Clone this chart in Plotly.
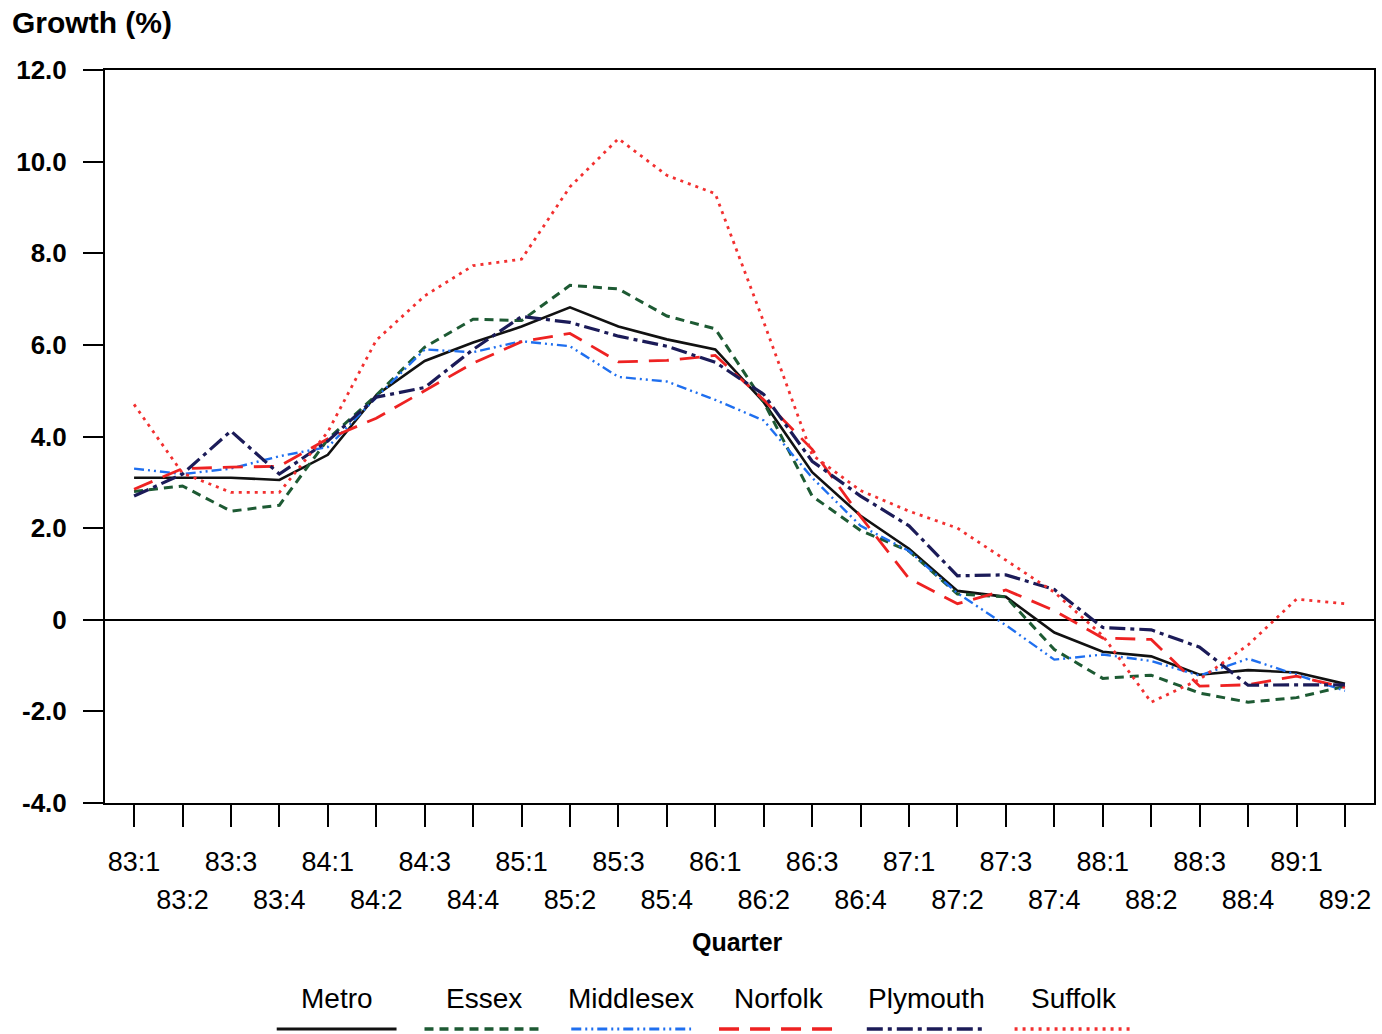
import plotly.graph_objects as go

# Quarterly growth rates (%) by region, 1983 Q1 to 1989 Q2
quarters = ["83:1", "83:2", "83:3", "83:4", "84:1", "84:2", "84:3", "84:4",
            "85:1", "85:2", "85:3", "85:4", "86:1", "86:2", "86:3", "86:4",
            "87:1", "87:2", "87:3", "87:4", "88:1", "88:2", "88:3", "88:4",
            "89:1", "89:2"]

metro = [3.1, 3.1, 3.1, 3.05, 3.6, 4.9, 5.65, 6.05, 6.4, 6.82, 6.4, 6.12, 5.9,
         4.75, 3.22, 2.27, 1.55, 0.63, 0.5, -0.28, -0.7, -0.8, -1.2, -1.1, -1.15, -1.4]
essex = [2.8, 2.92, 2.37, 2.5, 3.94, 4.9, 5.95, 6.56, 6.53, 7.3, 7.22, 6.63, 6.35,
         4.75, 2.7, 1.95, 1.5, 0.56, 0.5, -0.65, -1.28, -1.21, -1.6, -1.8, -1.7, -1.45]
middlesex = [3.3, 3.18, 3.3, 3.57, 3.77, 4.85, 5.9, 5.84, 6.08, 5.97, 5.3, 5.2, 4.8,
             4.35, 3.1, 2.05, 1.5, 0.58, -0.12, -0.87, -0.76, -0.9, -1.22, -0.85, -1.2, -1.55]
norfolk = [2.85, 3.3, 3.33, 3.35, 3.95, 4.4, 5.0, 5.6, 6.07, 6.25, 5.63, 5.66, 5.77,
           4.8, 3.72, 2.25, 0.9, 0.35, 0.65, 0.2, -0.4, -0.43, -1.45, -1.42, -1.23, -1.48]
plymouth = [2.7, 3.18, 4.12, 3.18, 3.9, 4.86, 5.07, 5.9, 6.62, 6.49, 6.19, 5.97, 5.62,
            4.92, 3.46, 2.7, 2.05, 0.96, 0.98, 0.66, -0.17, -0.22, -0.6, -1.43, -1.42, -1.42]
suffolk = [4.7, 3.2, 2.78, 2.78, 4.1, 6.1, 7.07, 7.73, 7.87, 9.45, 10.5, 9.7, 9.3,
           6.5, 3.6, 2.82, 2.37, 2.0, 1.3, 0.6, -0.35, -1.8, -1.3, -0.55, 0.45, 0.35]

y_ticks = [12, 10, 8, 6, 4, 2, 0, -2, -4]
y_tick_labels = ["12.0", "10.0", "8.0", "6.0", "4.0", "2.0", "0", "-2.0", "-4.0"]

FONT = "Liberation Sans, Arial, sans-serif"

series = [
    ("Metro", metro, "#111111", "solid", 2.6),
    ("Essex", essex, "#1d5a33", "9px,6px", 3),
    ("Middlesex", middlesex, "#1f6fef", "10px,4px,2px,4px,2px,4px", 2.4),
    ("Norfolk", norfolk, "#ee2222", "20px,11px", 2.8),
    ("Plymouth", plymouth, "#1b1b58", "16px,5px,4px,5px", 3.2),
    ("Suffolk", suffolk, "#f23030", "3px,5px", 2.8),
]

idx = list(range(len(quarters)))

fig = go.Figure()
for name, vals, color, dash, width in series:
    fig.add_trace(go.Scatter(
        x=idx, y=vals, mode="lines", name=name,
        line=dict(color=color, dash=dash, width=width),
        showlegend=False, xaxis="x", yaxis="y",
    ))

# invisible carrier trace for the second (lower-row) quarter label axis
fig.add_trace(go.Scatter(x=idx, y=[None] * len(idx), xaxis="x2", yaxis="y",
                         showlegend=False, hoverinfo="skip"))

upper = [q if i % 2 == 0 else "" for i, q in enumerate(quarters)]
lower_vals = [i for i in idx if i % 2 == 1]
lower = [quarters[i] for i in lower_vals]

fig.update_layout(
    width=1382, height=1034,
    margin=dict(l=105, r=6, t=70, b=231),
    paper_bgcolor="white", plot_bgcolor="white",
    font=dict(family=FONT, color="black"),
    xaxis=dict(
        range=[-0.6, 25.6], tickmode="array", tickvals=idx, ticktext=upper,
        ticks="outside", ticklen=22, tickwidth=1.5, tickcolor="black",
        tickfont=dict(size=27, family=FONT), ticklabelstandoff=12,
        showline=True, linecolor="black", linewidth=2, mirror=True,
        showgrid=False, zeroline=False,
    ),
    xaxis2=dict(
        overlaying="x", matches="x", anchor="y", side="bottom",
        tickmode="array", tickvals=lower_vals, ticktext=lower,
        ticks="", tickfont=dict(size=27, family=FONT), ticklabelstandoff=78,
        showline=False, showgrid=False, zeroline=False,
    ),
    yaxis=dict(
        range=[-4, 12], tickmode="array", tickvals=y_ticks, ticktext=y_tick_labels,
        ticks="outside", ticklen=20, tickwidth=1.5, tickcolor="black",
        tickfont=dict(size=26, family=FONT, weight="bold"), ticklabelstandoff=11,
        showline=True, linecolor="black", linewidth=2, mirror=True,
        showgrid=False, zeroline=True, zerolinecolor="black", zerolinewidth=2,
    ),
)

annotations = [
    dict(text="Growth (%)", x=10, y=22, xref="paper", yref="paper",
         xanchor="left", yanchor="middle", showarrow=False,
         font=dict(size=30, weight="bold", family=FONT)),
    dict(text="Quarter", x=738, y=942, xref="paper", yref="paper",
         xanchor="center", yanchor="middle", showarrow=False,
         font=dict(size=25, weight="bold", family=FONT)),
]

# convert pixel placement in the page to paper coordinates
PL, PR, PT, PB = 105, 1376, 70, 803


def px_x(px):
    return (px - PL) / (PR - PL)


def px_y(py):
    return (PB - py) / (PB - PT)


for a in annotations:
    a["x"] = px_x(a["x"])
    a["y"] = px_y(a["y"])

# legend: label above a short line sample
legend_centers = [337, 485, 632, 780, 928, 1076]
shapes = []
for (name, vals, color, dash, width), cx in zip(series, legend_centers):
    annotations.append(dict(
        text=name, x=px_x(cx), y=px_y(998), xref="paper", yref="paper",
        xanchor="center", yanchor="middle", showarrow=False,
        font=dict(size=28, family=FONT)))
    shapes.append(dict(
        type="line", xref="paper", yref="paper",
        x0=px_x(cx - 60), x1=px_x(cx + 60), y0=px_y(1029), y1=px_y(1029),
        line=dict(color=color, dash=dash, width=width + 0.5)))

fig.update_layout(annotations=annotations, shapes=shapes)

fig.write_html("out.html")
